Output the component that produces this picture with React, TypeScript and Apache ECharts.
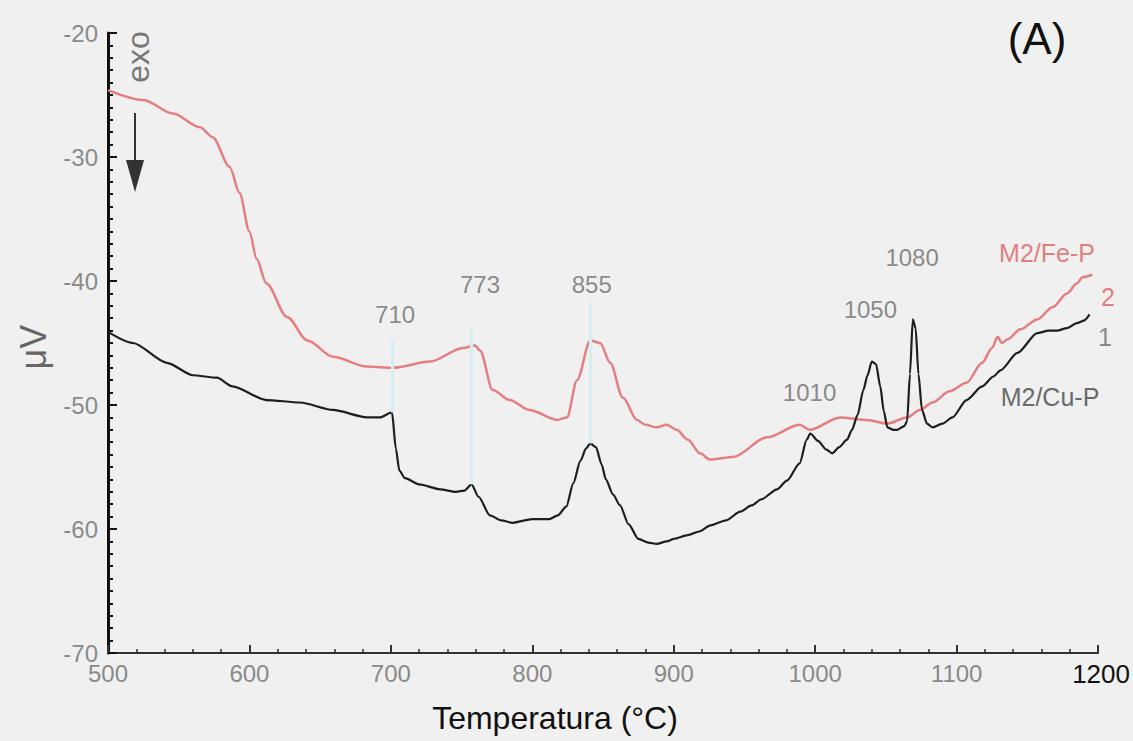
import React, { useEffect, useRef } from "react";
import * as echarts from "echarts";

// Curve 2: M2/Fe-P (red)
const feTemp = [500, 525, 546, 565, 574, 586, 593, 600, 605, 612, 626.6, 641, 659, 683, 701.5, 727.7, 751, 759.5, 763, 772, 784, 798, 817.5, 824.5, 831.6, 841, 848, 855, 864, 874, 880, 888, 895, 902, 910, 918.6, 925.6, 942, 966, 989, 996, 1017.6, 1036.7, 1050.8, 1065, 1074, 1083, 1095, 1107, 1118, 1125, 1129, 1132, 1136, 1145, 1157, 1168, 1178, 1185, 1189, 1196];
const feVal = [-24.6, -25.4, -26.5, -27.6, -28.4, -30.8, -32.9, -36.0, -38.2, -40.2, -42.9, -44.8, -46.1, -46.9, -47.0, -46.5, -45.4, -45.2, -45.6, -48.8, -49.6, -50.4, -51.2, -51.0, -48.0, -44.8, -45.0, -46.6, -49.4, -51.2, -51.6, -51.8, -51.6, -52.0, -52.8, -53.9, -54.4, -54.2, -52.6, -51.6, -52.0, -51.0, -51.2, -51.5, -51.0, -50.4, -49.8, -48.9, -48.2, -46.6, -45.4, -44.5, -45.0, -44.7, -43.9, -43.1, -42.1, -41.0, -40.2, -39.7, -39.5];

// Curve 1: M2/Cu-P (black)
const cuTemp = [500, 517.7, 541.7, 560, 577, 588, 612, 635.8, 659, 683, 692, 700.8, 703.5, 706, 710, 720, 735, 746, 752, 757, 762, 770, 778, 786, 800, 812, 818, 824, 829, 834, 838, 841, 845, 849, 852, 857, 862, 868, 875, 882, 888, 895, 900, 910, 918, 926, 937, 947, 955, 962, 973, 980, 989, 994, 996.5, 1002, 1008, 1012, 1017, 1022.5, 1026, 1030, 1034, 1037, 1040, 1043, 1046, 1048.5, 1051, 1055, 1058, 1063, 1065, 1067, 1069, 1071, 1073, 1075.5, 1079, 1083, 1090, 1097, 1107, 1118, 1126, 1131, 1143, 1157, 1165, 1171, 1178, 1185, 1190, 1194];
const cuVal = [-44.1, -45.0, -46.6, -47.6, -47.8, -48.5, -49.6, -49.8, -50.4, -51.0, -51.0, -50.6, -53.5, -55.3, -55.9, -56.4, -56.8, -57.0, -56.9, -56.4, -57.4, -58.9, -59.3, -59.5, -59.2, -59.2, -58.9, -58.2, -56.3, -54.5, -53.5, -53.1, -53.4, -54.8, -56.0, -57.2, -58.1, -59.6, -60.8, -61.1, -61.2, -61.0, -60.8, -60.5, -60.2, -59.7, -59.3, -58.6, -58.1, -57.6, -56.8, -56.1, -54.7, -52.8, -52.3, -52.9, -53.6, -53.9, -53.4, -52.8, -52.0, -50.8, -48.8, -47.6, -46.5, -46.7, -48.5, -50.5, -51.8, -52.0, -52.0, -51.7, -51.3, -47.5, -43.1, -43.8, -47.5, -50.4, -51.5, -51.8, -51.5, -51.0, -49.6, -48.5, -47.7, -47.2, -45.8, -44.2, -44.0, -44.0, -43.8, -43.4, -43.2, -42.7];

// Peak annotations
const peakLabels = ["710", "773", "855", "1010", "1050", "1080"];
const peakLabelT = [703, 763, 842, 996, 1039, 1068.5];
const peakLabelV = [-42.7, -40.3, -40.3, -49.0, -42.3, -38.1];

// Faint guide lines under the peak labels
const guideT = [700.8, 757, 841];
const guideTop = [-44.8, -43.9, -41.8];
const guideBottom = [-50.6, -56.4, -53.1];

const xTicks = { min: 500, max: 1200, step: 100 };
const yTicks = { min: -70, max: -20, step: 10 };

const FONT = "Liberation Sans";

export default function App() {
  const ref = useRef<HTMLDivElement>(null);
  useEffect(() => {
    const chart = echarts.init(ref.current!, null, { renderer: "svg" });
    const option: any = {
      animation: false,
      backgroundColor: "#f0f0f0",
      grid: { left: 108, right: 34, top: 33, bottom: 88 },
      xAxis: {
        type: "value",
        min: xTicks.min,
        max: xTicks.max,
        interval: xTicks.step,
        axisLine: { lineStyle: { color: "#333", width: 2 } },
        axisTick: { inside: true, length: 8, lineStyle: { color: "#333", width: 2 } },
        minorTick: { show: true, splitNumber: 5, length: 4, lineStyle: { color: "#333", width: 1.5 } },
        splitLine: { show: false },
        axisLabel: {
          color: "#8a8a8a",
          fontSize: 24,
          fontFamily: FONT,
          margin: 8,
          formatter: (v: number) => (v === 1200 ? "{b|1200}" : String(v)),
          rich: { b: { color: "#111", fontSize: 26, fontFamily: FONT, padding: [0, 0, 0, 6] } },
        },
      },
      yAxis: {
        type: "value",
        min: yTicks.min,
        max: yTicks.max,
        interval: yTicks.step,
        axisLine: { lineStyle: { color: "#111", width: 3 } },
        axisTick: { inside: true, length: 9, lineStyle: { color: "#111", width: 2 } },
        minorTick: { show: true, splitNumber: 10, length: 5, lineStyle: { color: "#111", width: 2 } },
        splitLine: { show: false },
        axisLabel: { color: "#8a8a8a", fontSize: 24, fontFamily: FONT, margin: 10, padding: [0, 0, 8, 0] },
      },
      series: [
        {
          name: "M2/Fe-P",
          type: "line",
          data: feTemp.map((t, i) => [t, feVal[i]]),
          showSymbol: false,
          smooth: 0.3,
          smoothMonotone: "x",
          lineStyle: { color: "#e57f7f", width: 2.5 },
          z: 3,
        },
        {
          name: "M2/Cu-P",
          type: "line",
          data: cuTemp.map((t, i) => [t, cuVal[i]]),
          showSymbol: false,
          smooth: 0.25,
          smoothMonotone: "x",
          lineStyle: { color: "#1e1e1e", width: 2.2 },
          z: 4,
          markLine: {
            silent: true,
            symbol: "none",
            label: { show: false },
            lineStyle: { color: "#d3efef", width: 3, type: "solid" },
            data: guideT.map((t, i) => [
              { coord: [t, guideTop[i]] },
              { coord: [t, guideBottom[i]] },
            ]),
          },
        },
        {
          name: "peaks",
          type: "scatter",
          symbolSize: 0,
          data: peakLabels.map((n, i) => ({ name: n, value: [peakLabelT[i], peakLabelV[i]] })),
          label: {
            show: true,
            position: "inside",
            formatter: (p: any) => p.name,
            color: "#6e6e6e",
            fontSize: 24,
            fontFamily: FONT,
          },
          z: 5,
        },
      ],
      graphic: [
        { type: "text", x: 555, y: 718, style: { text: "Temperatura (°C)", fill: "#111", font: `32px "${FONT}"`, textAlign: "center", textVerticalAlign: "middle" } },
        { type: "text", x: 33, y: 347, rotation: Math.PI / 2, style: { text: "μV", fill: "#666", font: `36px "${FONT}"`, textAlign: "center", textVerticalAlign: "middle" } },
        { type: "text", x: 138, y: 57, rotation: Math.PI / 2, style: { text: "exo", fill: "#777", font: `32px "${FONT}"`, textAlign: "center", textVerticalAlign: "middle" } },
        { type: "line", shape: { x1: 135, y1: 113, x2: 135, y2: 165 }, style: { stroke: "#333", lineWidth: 2 } },
        { type: "polygon", shape: { points: [[126, 160], [144, 160], [135, 192]] }, style: { fill: "#333" } },
        { type: "text", x: 1037, y: 38, style: { text: "(A)", fill: "#111", font: `44px "${FONT}"`, textAlign: "center", textVerticalAlign: "middle" } },
        { type: "text", x: 1047, y: 253, style: { text: "M2/Fe-P", fill: "#e08080", font: `25px "${FONT}"`, textAlign: "center", textVerticalAlign: "middle" } },
        { type: "text", x: 1108, y: 297, style: { text: "2", fill: "#e08080", font: `25px "${FONT}"`, textAlign: "center", textVerticalAlign: "middle" } },
        { type: "text", x: 1105, y: 337, style: { text: "1", fill: "#8a8a8a", font: `25px "${FONT}"`, textAlign: "center", textVerticalAlign: "middle" } },
        { type: "text", x: 1050, y: 397, style: { text: "M2/Cu-P", fill: "#6a6a6a", font: `25px "${FONT}"`, textAlign: "center", textVerticalAlign: "middle" } },
      ],
    };
    chart.setOption(option);
    return () => chart.dispose();
  }, []);
  return (
    <div
      ref={ref}
      style={{ position: "absolute", left: 0, top: 0, width: 1133, height: 741 }}
    />
  );
}
